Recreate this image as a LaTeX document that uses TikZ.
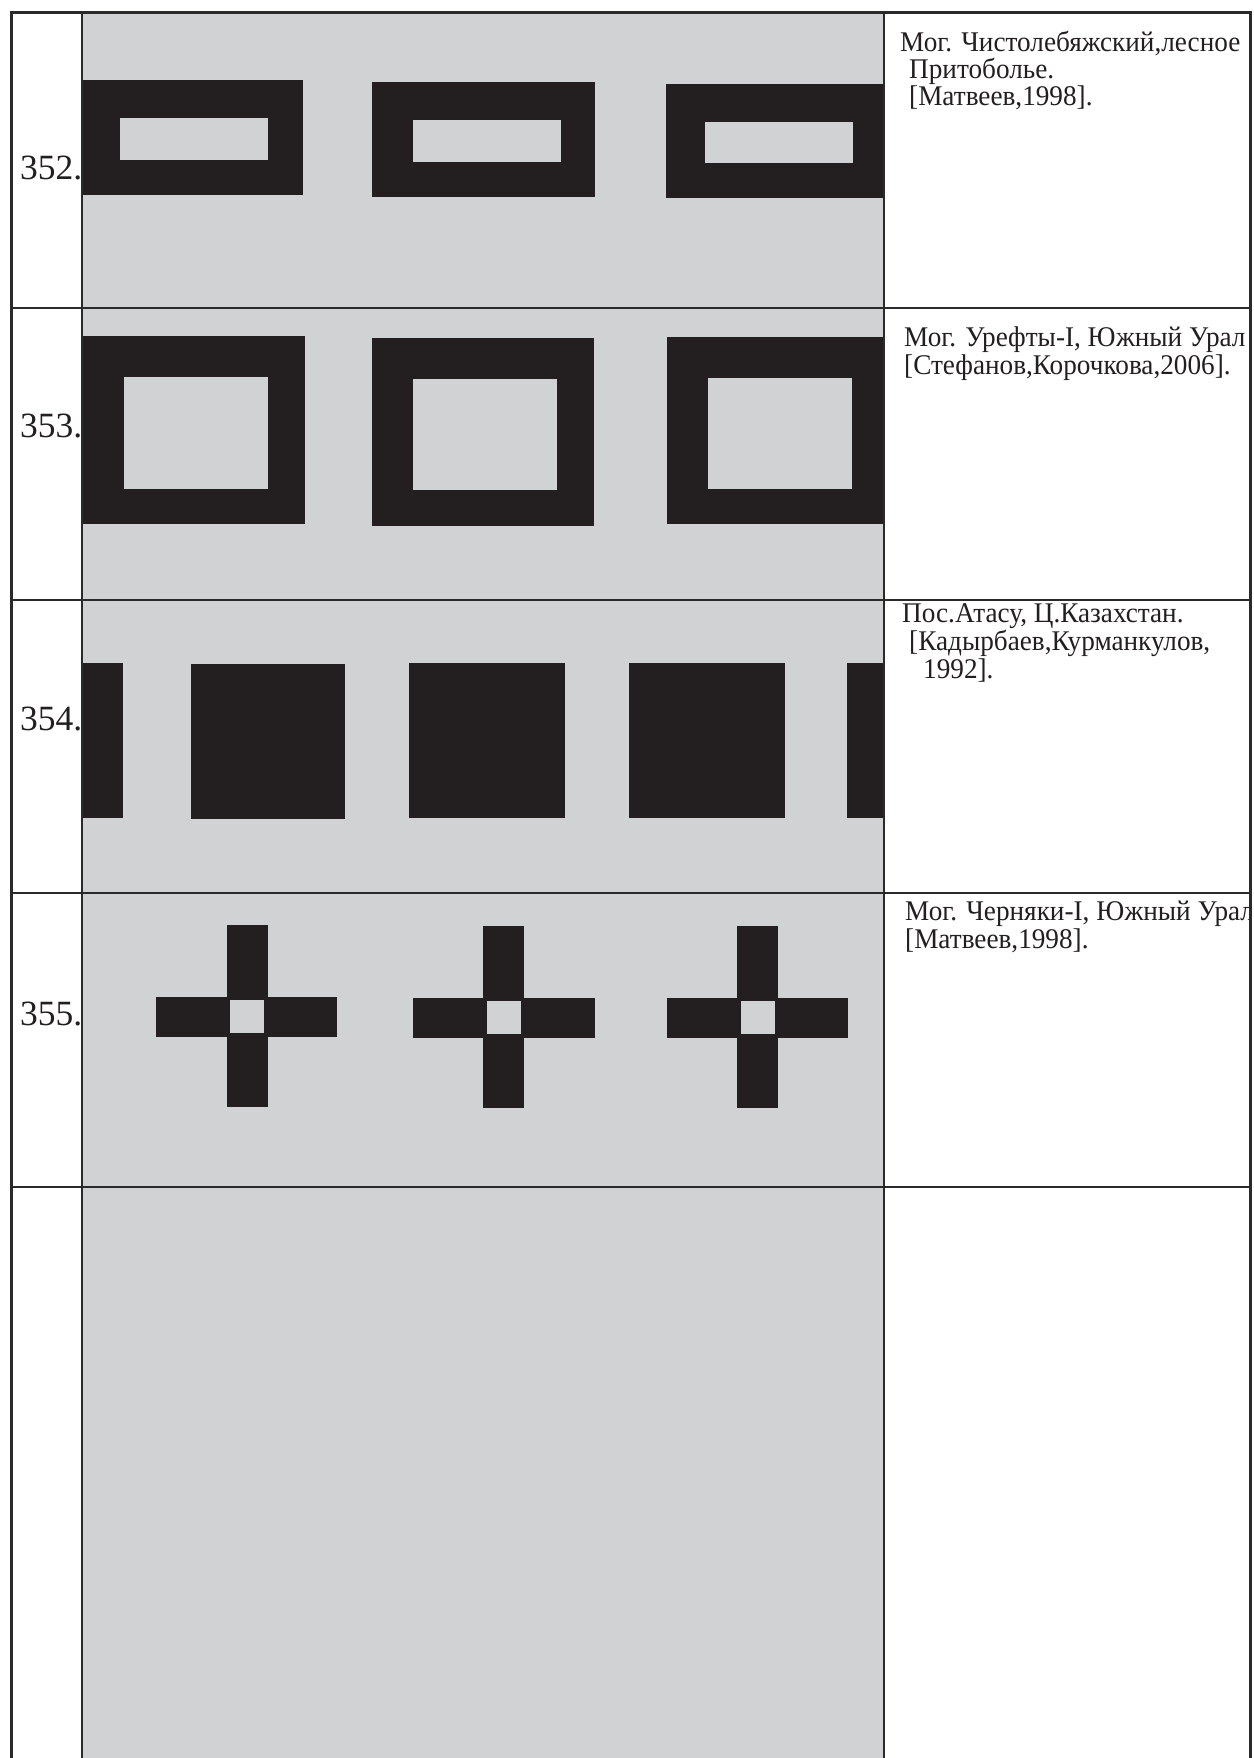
\documentclass[tikz,border=0pt]{standalone}
\usepackage{fontspec}
\setmainfont{Liberation Serif}
\definecolor{pgray}{HTML}{D1D2D4}
\definecolor{pblack}{HTML}{231F20}
\definecolor{pline}{HTML}{2B2A2A}
\begin{document}
\begin{tikzpicture}[x=1pt,y=-1pt,
  frameline/.style={draw=pline,line width=3pt},
  innerline/.style={draw=pline,line width=2.6pt},
  blk/.style={fill=pblack},
  hole/.style={fill=pgray},
  txt/.style={anchor=base west,inner sep=0pt,font=\fontsize{28.5}{28.5}\selectfont\addfontfeature{FakeStretch=0.955},text=pblack},
  num/.style={anchor=base west,inner sep=0pt,font=\fontsize{35.5}{35.5}\selectfont,text=pblack}]
\useasboundingbox (0,0) rectangle (1253,1758);
\fill[white] (0,0) rectangle (1253,1758);
\fill[pgray] (82,13) rectangle (884,1758);

% row 352: rectangular rings
\fill[blk] (82,80) rectangle (303,195);   \fill[hole] (120,118) rectangle (268,160);
\fill[blk] (372,82) rectangle (595,197);  \fill[hole] (413,120) rectangle (561,162);
\fill[blk] (666,84) rectangle (884,198);  \fill[hole] (705,122) rectangle (853,163);

% row 353: square rings
\fill[blk] (82,336) rectangle (305,524);  \fill[hole] (124,377) rectangle (268,489);
\fill[blk] (372,338) rectangle (594,526); \fill[hole] (413,379) rectangle (557,490);
\fill[blk] (667,337) rectangle (884,524); \fill[hole] (708,378) rectangle (852,489);

% row 354: solid blocks
\fill[blk] (82,663) rectangle (123,818);
\fill[blk] (191,664) rectangle (345,819);
\fill[blk] (409,663) rectangle (565,818);
\fill[blk] (629,663) rectangle (785,818);
\fill[blk] (847,663) rectangle (884,818);

% row 355: crosses
\fill[blk] (227,925) rectangle (268,1107); \fill[blk] (156,997) rectangle (337,1037);
\fill[hole] (230,1000) rectangle (264,1033);
\fill[blk] (483,926) rectangle (524,1108); \fill[blk] (413,998) rectangle (595,1038);
\fill[hole] (487,1001) rectangle (521,1034);
\fill[blk] (737,926) rectangle (778,1108); \fill[blk] (667,998) rectangle (848,1038);
\fill[hole] (741,1001) rectangle (775,1034);

% numbers
\node[num] (n352) at (20,179) {352.};
\node[num] (n353) at (20,437) {353.};
\node[num] (n354) at (20,730) {354.};
\node[num] (n355) at (20,1025) {355.};

% descriptions
\begin{scope}
\clip (884,13) rectangle (1250,1758);
\node[txt] (a1) at (900,52) {Мог. Чистолебяжский,лесное};
\node[txt] (a2) at (909,79) {Притоболье.};
\node[txt] (a3) at (909,106) {[Матвеев,1998].};
\node[txt] (b1) at (904,346) {Мог. Урефты-I, Южный Урал};
\node[txt] (b2) at (904,374) {[Стефанов,Корочкова,2006].};
\node[txt] (c1) at (902,622) {Пос.Атасу, Ц.Казахстан.};
\node[txt] (c2) at (909,650) {[Кадырбаев,Курманкулов,};
\node[txt] (c3) at (923,678) {1992].};
\node[txt] (d1) at (905,920) {Мог. Черняки-I, Южный Урал};
\node[txt] (d2) at (905,948) {[Матвеев,1998].};
\end{scope}

% grid lines
\foreach \yy in {308,600,893,1187} \draw[innerline] (11,\yy) -- (1250,\yy);
\draw[innerline] (82,13) -- (82,1758);
\draw[innerline] (884,13) -- (884,1758);
\draw[frameline] (11,1758) -- (11,13) -- (1250,13) -- (1250,1758);
\end{tikzpicture}
\end{document}
